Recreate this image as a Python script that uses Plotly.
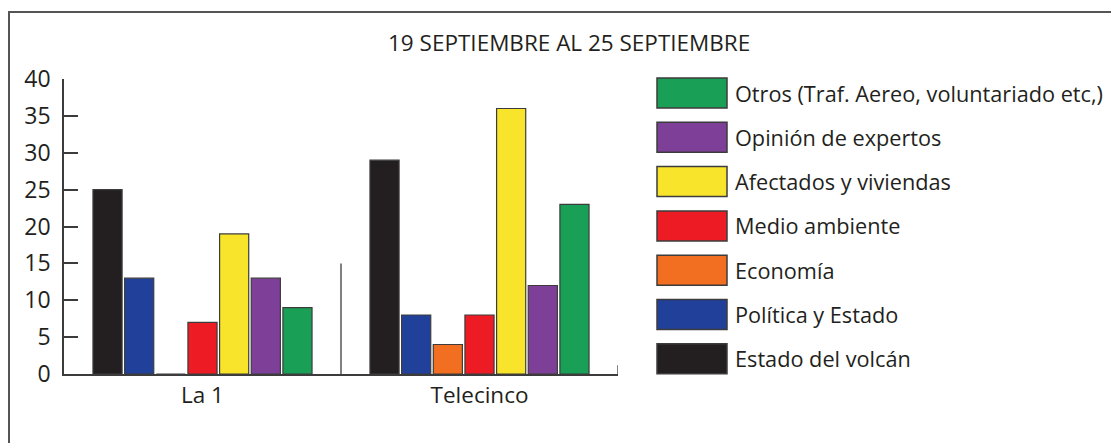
import plotly.graph_objects as go

# datos
canales = ["La 1", "Telecinco"]
temas = [
    "Estado del volcán",
    "Política y Estado",
    "Economía",
    "Medio ambiente",
    "Afectados y viviendas",
    "Opinión de expertos",
    "Otros (Traf. Aereo, voluntariado etc,)",
]
valores = {
    "Estado del volcán": [25, 29],
    "Política y Estado": [13, 8],
    "Economía": [0, 4],
    "Medio ambiente": [7, 8],
    "Afectados y viviendas": [19, 36],
    "Opinión de expertos": [13, 12],
    "Otros (Traf. Aereo, voluntariado etc,)": [9, 23],
}
colores = ["#231f20", "#21409a", "#f26f22", "#ed1c24", "#f8e52b", "#7e3f98", "#1a9f56"]
y_ticks = [0, 5, 10, 15, 20, 25, 30, 35, 40]
titulo = "19 SEPTIEMBRE AL 25 SEPTIEMBRE"

FONT = "Open Sans"
TXT = "#231f20"
LINEA = "#3c3c3c"

# la pagina tiene un margen de 8px en el body
OFF = 8
W, H = 1119 - OFF, 443 - OFF
L, R, T, B = 64, 618, 79, 374  # area del grafico en pixeles de pantalla


def px(x):
    return (x - L) / (R - L)


def py(y):
    return (B - y) / (B - T)


fig = go.Figure()
for tema, color in zip(temas, colores):
    fig.add_trace(go.Bar(
        x=canales, y=valores[tema], name=tema,
        marker=dict(color=color, line=dict(color=LINEA, width=1.2)),
        showlegend=False,
    ))

shapes = []
annotations = []

# marco exterior
shapes.append(dict(type="rect", xref="paper", yref="paper",
                   x0=px(9), x1=px(1135), y0=py(460), y1=py(12),
                   line=dict(color="#555555", width=2), fillcolor="rgba(0,0,0,0)"))

# separador entre cadenas y marca final del eje
shapes.append(dict(type="line", xref="x", yref="y", x0=0.5, x1=0.5, y0=0, y1=15,
                   line=dict(color=LINEA, width=1.3)))
shapes.append(dict(type="line", xref="x", yref="y", x0=1.5, x1=1.5, y0=0, y1=1.2,
                   line=dict(color=LINEA, width=1.3)))

# leyenda manual (orden inverso)
fila0, paso = 93, 44.3
for i, (tema, color) in enumerate(reversed(list(zip(temas, colores)))):
    cy = fila0 + i * paso
    shapes.append(dict(type="rect", xref="paper", yref="paper",
                       x0=px(657), x1=px(727), y0=py(cy + 15), y1=py(cy - 15),
                       fillcolor=color, line=dict(color=LINEA, width=1.5)))
    annotations.append(dict(xref="paper", yref="paper", x=px(733), y=py(cy),
                            xanchor="left", yanchor="middle", showarrow=False,
                            text=tema, font=dict(family=FONT, size=21.7, color=TXT)))

annotations.append(dict(xref="paper", yref="paper", x=px(569), y=py(43),
                        xanchor="center", yanchor="middle", showarrow=False,
                        text=titulo, font=dict(family=FONT, size=22.5, color=TXT)))

fig.update_layout(
    width=W, height=H,
    margin=dict(l=L - OFF, r=W - (R - OFF), t=T - OFF, b=H - (B - OFF)),
    paper_bgcolor="white", plot_bgcolor="white",
    barmode="group", bargap=0.2, bargroupgap=0.08,
    font=dict(family=FONT, color=TXT),
    shapes=shapes, annotations=annotations,
)
fig.update_xaxes(
    range=[-0.5, 1.5], showline=True, linecolor=LINEA, linewidth=1.5,
    ticks="", showgrid=False, zeroline=False,
    tickfont=dict(family=FONT, size=22.5, color=TXT),
)
fig.update_yaxes(
    range=[0, 40], tickvals=y_ticks, showline=True, linecolor=LINEA, linewidth=1.5,
    ticks="inside", ticklen=14, tickwidth=1.5, tickcolor=LINEA,
    showgrid=False, zeroline=False, ticklabelstandoff=7,
    tickfont=dict(family=FONT, size=23, color=TXT),
)

fig.write_html("out.html")
